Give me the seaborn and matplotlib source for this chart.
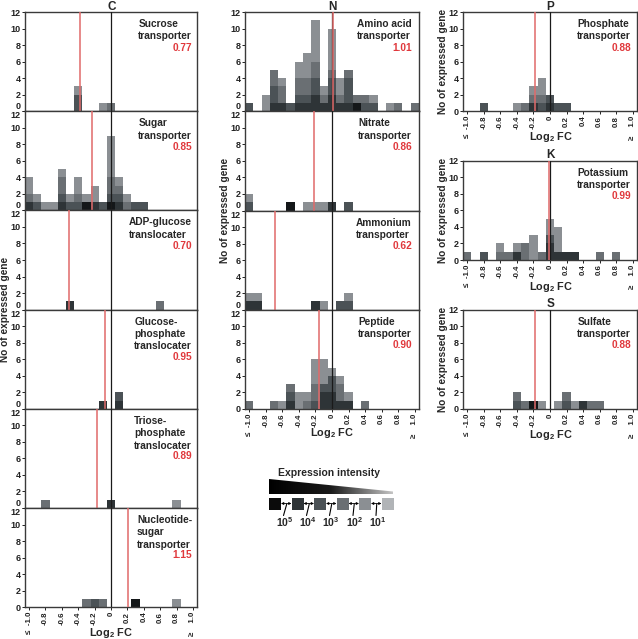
import numpy as np
import pandas as pd
import matplotlib
matplotlib.use('Agg')
import matplotlib.pyplot as plt
import seaborn as sns
from matplotlib.patches import Rectangle, Polygon
from matplotlib.colors import LinearSegmentedColormap

# ---------------- data: (log2 FC bin, intensity class, number of genes) -------------
SUCROSE = [(-0.4, 'I3', 2), (-0.4, 'I5', 1), (-0.1, 'I5', 1), (0.0, 'I4', 1)]
SUGAR = [(-1.0, 'I2', 1), (-1.0, 'I4', 1), (-1.0, 'I5', 2),
         (-0.9, 'I3', 1), (-0.9, 'I5', 1),
         (-0.8, 'I5', 1), (-0.7, 'I5', 1),
         (-0.6, 'I2', 1), (-0.6, 'I3', 1), (-0.6, 'I4', 2), (-0.6, 'I5', 1),
         (-0.5, 'I3', 1), (-0.5, 'I5', 1),
         (-0.4, 'I3', 1), (-0.4, 'I4', 1), (-0.4, 'I5', 2),
         (-0.3, 'I1', 1), (-0.3, 'I5', 1),
         (-0.2, 'I2', 1), (-0.2, 'I5', 2),
         (-0.1, 'I3', 1),
         (0.0, 'I1', 1), (0.0, 'I3', 1), (0.0, 'I4', 2), (0.0, 'I5', 5),
         (0.1, 'I2', 1), (0.1, 'I3', 1), (0.1, 'I4', 1), (0.1, 'I5', 1),
         (0.2, 'I4', 1), (0.2, 'I5', 1),
         (0.3, 'I3', 1), (0.4, 'I3', 1)]
ADP_GLUCOSE = [(-0.5, 'I2', 1), (0.6, 'I4', 1)]
GLUCOSE_P = [(-0.1, 'I2', 1), (0.1, 'I2', 1), (0.1, 'I3', 1)]
TRIOSE_P = [(-0.8, 'I4', 1), (0.0, 'I2', 1), (0.8, 'I5', 1)]
NUCLEOTIDE = [(-0.3, 'I4', 1), (-0.2, 'I3', 1), (-0.1, 'I4', 1), (0.3, 'I1', 1), (0.8, 'I5', 1)]

AMINO_ACID = [(-1.0, 'I3', 1),
              (-0.8, 'I5', 2),
              (-0.7, 'I2', 1), (-0.7, 'I3', 2), (-0.7, 'I4', 2),
              (-0.6, 'I2', 1), (-0.6, 'I4', 2), (-0.6, 'I5', 1),
              (-0.5, 'I3', 1),
              (-0.4, 'I2', 1), (-0.4, 'I3', 1), (-0.4, 'I4', 2), (-0.4, 'I5', 2),
              (-0.3, 'I2', 1), (-0.3, 'I3', 1), (-0.3, 'I4', 2), (-0.3, 'I5', 3),
              (-0.2, 'I2', 2), (-0.2, 'I3', 2), (-0.2, 'I4', 2), (-0.2, 'I5', 5),
              (-0.1, 'I2', 1), (-0.1, 'I4', 1), (-0.1, 'I5', 1),
              (0.0, 'I2', 2), (0.0, 'I3', 2), (0.0, 'I4', 1), (0.0, 'I5', 5),
              (0.1, 'I2', 1), (0.1, 'I4', 1), (0.1, 'I5', 2),
              (0.2, 'I2', 1), (0.2, 'I3', 3), (0.2, 'I4', 1),
              (0.3, 'I1', 1), (0.3, 'I4', 1),
              (0.4, 'I3', 1), (0.4, 'I4', 1),
              (0.5, 'I3', 1), (0.5, 'I5', 1),
              (0.7, 'I5', 1), (0.8, 'I4', 1), (1.0, 'I4', 1)]
NITRATE = [(-1.0, 'I3', 1), (-1.0, 'I5', 1), (-0.5, 'I1', 1), (-0.3, 'I5', 1),
           (-0.2, 'I5', 1), (-0.1, 'I5', 1), (0.0, 'I2', 1), (0.2, 'I3', 1)]
AMMONIUM = [(-1.0, 'I2', 1), (-1.0, 'I5', 1), (-0.9, 'I2', 1), (-0.9, 'I5', 1),
            (-0.2, 'I2', 1), (-0.1, 'I5', 1), (0.1, 'I3', 1), (0.2, 'I3', 1), (0.2, 'I5', 1)]
PEPTIDE = [(-1.0, 'I4', 1), (-0.7, 'I4', 1), (-0.6, 'I5', 1),
           (-0.5, 'I2', 1), (-0.5, 'I3', 1), (-0.5, 'I4', 1),
           (-0.4, 'I5', 2),
           (-0.3, 'I4', 1), (-0.3, 'I5', 1),
           (-0.2, 'I3', 1), (-0.2, 'I4', 2), (-0.2, 'I5', 3),
           (-0.1, 'I2', 2), (-0.1, 'I3', 1), (-0.1, 'I5', 3),
           (0.0, 'I2', 2), (0.0, 'I3', 2), (0.0, 'I5', 1),
           (0.1, 'I2', 1), (0.1, 'I4', 2), (0.1, 'I5', 1),
           (0.2, 'I2', 1), (0.2, 'I5', 1),
           (0.4, 'I4', 1)]

PHOSPHATE = [(-0.8, 'I3', 1), (-0.4, 'I5', 1), (-0.3, 'I4', 1),
             (-0.2, 'I2', 1), (-0.2, 'I4', 1), (-0.2, 'I5', 1),
             (-0.1, 'I3', 1), (-0.1, 'I4', 1), (-0.1, 'I5', 2),
             (0.0, 'I2', 1), (0.0, 'I3', 1), (0.1, 'I3', 1), (0.2, 'I3', 1)]
POTASSIUM = [(-1.0, 'I4', 1), (-0.8, 'I3', 1), (-0.6, 'I4', 1), (-0.6, 'I5', 1),
             (-0.5, 'I4', 1), (-0.4, 'I2', 1), (-0.4, 'I5', 1), (-0.3, 'I4', 2),
             (-0.2, 'I5', 3), (-0.1, 'I4', 1),
             (0.0, 'I2', 2), (0.0, 'I3', 1), (0.0, 'I5', 2),
             (0.1, 'I2', 1), (0.1, 'I5', 3), (0.2, 'I2', 1), (0.3, 'I2', 1),
             (0.6, 'I4', 1), (0.8, 'I4', 1)]
SULFATE = [(-0.4, 'I3', 1), (-0.4, 'I4', 1), (-0.3, 'I4', 1), (-0.2, 'I1', 1),
           (-0.1, 'I5', 1), (0.1, 'I5', 1), (0.2, 'I3', 1), (0.2, 'I4', 1),
           (0.3, 'I5', 1), (0.4, 'I2', 1), (0.5, 'I4', 1), (0.6, 'I4', 1)]

RATIOS = {'Sucrose': 0.77, 'Sugar': 0.85, 'ADP-glucose': 0.70, 'Glucose-P': 0.95,
          'Triose-P': 0.89, 'Nucleotide': 1.15, 'Amino acid': 1.01, 'Nitrate': 0.86,
          'Ammonium': 0.62, 'Peptide': 0.90, 'Phosphate': 0.88, 'Potassium': 0.99,
          'Sulfate': 0.88}

TICKS = [-1.0, -0.8, -0.6, -0.4, -0.2, 0.0, 0.2, 0.4, 0.6, 0.8, 1.0]
TICK_LABELS = ['\u2264  -1.0', '-0.8', '-0.6', '-0.4', '-0.2', '0', '0.2', '0.4',
               '0.6', '0.8', '\u2265    1.0']
YTICKS = [0, 2, 4, 6, 8, 10, 12]
LEGEND_LABELS = ['10$^{5}$', '10$^{4}$', '10$^{3}$', '10$^{2}$', '10$^{1}$']

# ---------------- style ----------------
PALETTE = {'I1': '#141719', 'I2': '#2e3437', 'I3': '#4b5256', 'I4': '#6a6f73',
           'I5': '#8b8f93', 'I6': '#b1b4b7'}
STACK_ORDER = ['I6', 'I5', 'I4', 'I3', 'I2', 'I1']   # last level ends up at the bottom

sns.set_theme(style='ticks')
plt.rcParams['font.family'] = ['Liberation Sans', 'DejaVu Sans']
plt.rcParams['font.weight'] = 'bold'
plt.rcParams['mathtext.fontset'] = 'custom'
plt.rcParams['mathtext.rm'] = 'Liberation Sans:bold'
plt.rcParams['mathtext.bf'] = 'Liberation Sans:bold'
plt.rcParams['mathtext.default'] = 'rm'

W, H = 638, 639
fig = plt.figure(figsize=(W / 100, H / 100), dpi=100)
fig.patch.set_facecolor('white')

RED = '#e0383c'
LINE_PX = 11.8


def add_ax(x0, x1, top, bottom):
    return fig.add_axes([x0 / W, 1 - bottom / H, (x1 - x0) / W, (bottom - top) / H])


def draw_panel(ax, data, ratio, name, show_x, pad_px, w_px, h_px,
               below=False, above=False):
    df = pd.DataFrame(data, columns=['log2fc', 'intensity', 'genes'])
    sns.histplot(data=df, x='log2fc', weights='genes', hue='intensity',
                 hue_order=STACK_ORDER, palette=PALETTE, multiple='stack',
                 binwidth=0.1, binrange=(-1.05, 1.05), linewidth=0, alpha=1,
                 legend=False, ax=ax)
    ax.set_xlim(-1.05, 1.05)
    ax.set_ylim(0, 12)
    ax.axvline(0, color='#1a1a1a', lw=0.9, zorder=4)
    ax.axvline(np.log2(ratio), color='#e06a6a', lw=1.1, zorder=5)
    ax.set_xlabel('')
    ax.set_ylabel('')
    ax.set_yticks(YTICKS)
    ax.set_yticklabels([str(v) for v in YTICKS], fontsize=6.5, fontweight='bold')
    ylabels = ax.get_yticklabels()
    if below:
        ylabels[0].set_va('bottom')
    if above:
        ylabels[-1].set_va('top')
    ax.set_xticks(TICKS)
    if show_x:
        ax.set_xticklabels(TICK_LABELS, rotation=90, fontsize=5.7, fontweight='bold')
    else:
        ax.tick_params(axis='x', bottom=False, labelbottom=False)
    ax.tick_params(length=2, width=0.7, pad=1.2, colors='#222222')
    for s in ax.spines.values():
        s.set_visible(True)
        s.set_color('#3a3a3a')
        s.set_linewidth(1.0)
    xr = 1 - pad_px / w_px
    ytop = 1 - 7.0 / h_px
    lines = name.split('\n')
    ax.text(xr, ytop, name, transform=ax.transAxes, ha='right', va='top',
            multialignment='left', fontsize=7.3, fontweight='bold', linespacing=1.30,
            zorder=6)
    ax.text(xr, ytop - len(lines) * LINE_PX / h_px, f'{ratio:.2f}', transform=ax.transAxes,
            ha='right', va='top', fontsize=7.3, fontweight='bold', color=RED, zorder=6)


# column C
c_tops = [12 + 99.2 * i for i in range(6)]
c_panels = [(SUCROSE, 'Sucrose', 'Sucrose\ntransporter'),
            (SUGAR, 'Sugar', 'Sugar\ntransporter'),
            (ADP_GLUCOSE, 'ADP-glucose', 'ADP-glucose\ntranslocater'),
            (GLUCOSE_P, 'Glucose-P', 'Glucose-\nphosphate\ntranslocater'),
            (TRIOSE_P, 'Triose-P', 'Triose-\nphosphate\ntranslocater'),
            (NUCLEOTIDE, 'Nucleotide', 'Nucleotide-\nsugar\ntransporter')]
for i, (d, key, nm) in enumerate(c_panels):
    ax = add_ax(25, 197, c_tops[i], c_tops[i] + 99.2)
    draw_panel(ax, d, RATIOS[key], nm, i == 5, 5, 172, 99.2,
               below=i < 5, above=i > 0)

# column N
n_tops = [12 + 99.25 * i for i in range(4)]
n_panels = [(AMINO_ACID, 'Amino acid', 'Amino acid\ntransporter'),
            (NITRATE, 'Nitrate', 'Nitrate\ntransporter'),
            (AMMONIUM, 'Ammonium', 'Ammonium\ntransporter'),
            (PEPTIDE, 'Peptide', 'Peptide\ntransporter')]
for i, (d, key, nm) in enumerate(n_panels):
    ax = add_ax(245, 419, n_tops[i], n_tops[i] + 99.25)
    draw_panel(ax, d, RATIOS[key], nm, i == 3, 7, 174, 99.25,
               below=i < 3, above=i > 0)

# column P / K / S
p_tops = [12, 160.7, 309.6]
p_panels = [(PHOSPHATE, 'Phosphate', 'Phosphate\ntransporter'),
            (POTASSIUM, 'Potassium', 'Potassium\ntransporter'),
            (SULFATE, 'Sulfate', 'Sulfate\ntransporter')]
for i, (d, key, nm) in enumerate(p_panels):
    ax = add_ax(463, 637, p_tops[i], p_tops[i] + 99.3)
    draw_panel(ax, d, RATIOS[key], nm, True, 6, 174, 99.3)

# ---------------- overlay (pixel coordinates) ----------------
ov = fig.add_axes([0, 0, 1, 1])
ov.patch.set_alpha(0)


def otext(x, y, s, size=7.3, **kw):
    ov.text(x, y, s, ha=kw.pop('ha', 'center'), va=kw.pop('va', 'center'),
            fontsize=size, fontweight='bold', **kw)


for x, y, s in [(112, 6.5, 'C'), (332, 6.5, 'N'), (550.5, 6.5, 'P'),
                (550.5, 155.5, 'K'), (550.5, 303.8, 'S')]:
    otext(x, y, s, size=8.5)

for x, y in [(5.5, 309.5), (225, 210.5), (443.5, 61.5), (443.5, 210.3), (443.5, 359.3)]:
    otext(x, y, 'No of expressed gene', rotation=90)

for x, y in [(111, 632.5), (332, 433.5), (550.5, 137.5), (550.5, 286.5), (550.5, 434.5)]:
    otext(x, y, 'Log$_{2}$ FC', size=7.8)

# legend
otext(328.5, 472.5, 'Expression intensity', size=7.5)
grad = np.linspace(0, 1, 256).reshape(1, -1)
cmap = LinearSegmentedColormap.from_list('g', ['#000000', '#1a1a1a', '#c4c4c4'])
im = ov.imshow(grad, extent=(269, 393, 494, 479), cmap=cmap, aspect='auto',
               interpolation='bilinear')
tri = Polygon([(269, 479), (393, 491.5), (393, 494), (269, 494)], closed=True,
              transform=ov.transData, facecolor='none', edgecolor='none')
ov.add_patch(tri)
im.set_clip_path(tri)

sq_x = [269, 291.5, 314, 336.5, 359, 381.5]
sq_cols = ['#0b0b0b', PALETTE['I2'], PALETTE['I3'], PALETTE['I4'], PALETTE['I5'], PALETTE['I6']]
for x, c in zip(sq_x, sq_cols):
    ov.add_patch(Rectangle((x, 498), 12, 12, facecolor=c, edgecolor='none'))
lab_x = [285, 308, 331, 354.5, 377.5]
for i in range(5):
    g0, g1 = sq_x[i] + 12, sq_x[i + 1]
    gc = (g0 + g1) / 2
    ov.annotate('', xy=(g1, 503.5), xytext=(g0, 503.5),
                arrowprops=dict(arrowstyle='<|-|>', lw=0.6, color='black',
                                mutation_scale=3.5, shrinkA=0, shrinkB=0))
    ov.plot([lab_x[i] - 1.5, gc + 0.5], [515.5, 504], color='black', lw=0.8)
    otext(lab_x[i], 522.5, LEGEND_LABELS[i], size=7.5)

ov.set_xlim(0, W)
ov.set_ylim(H, 0)
ov.axis('off')

fig.savefig('out.png', dpi=100, facecolor='white')
